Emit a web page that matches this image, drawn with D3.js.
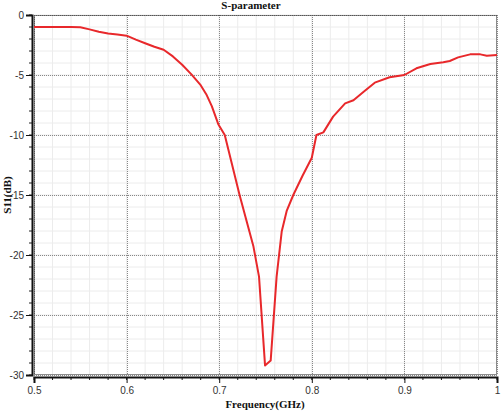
<!DOCTYPE html>
<html>
<head>
<meta charset="utf-8">
<script src="https://cdn.jsdelivr.net/npm/d3@7"></script>
<style>
  body { margin: 0; background: #fff; }
  svg { display: block; }
  .tick text { font-family: "Liberation Sans", Arial, sans-serif; font-size: 10px; fill: #333; }
  .lbl { font-family: "Liberation Serif", "DejaVu Serif", serif; font-weight: bold; font-size: 11px; fill: #111; }
</style>
</head>
<body>
<div id="chart"></div>
<script>
// S11 readings
const freq = [0.50, 0.52, 0.54, 0.55, 0.56, 0.57, 0.58, 0.59, 0.60, 0.61, 0.62, 0.63, 0.64, 0.65,
  0.66, 0.67, 0.68, 0.686, 0.692, 0.699, 0.706, 0.714, 0.722, 0.73, 0.737, 0.743, 0.7495, 0.7556,
  0.762, 0.7675, 0.773, 0.78, 0.79, 0.80, 0.805, 0.8125, 0.823, 0.836, 0.845, 0.856, 0.868, 0.884,
  0.90, 0.913, 0.928, 0.942, 0.949, 0.958, 0.971, 0.982, 0.989, 1.00];
const s11 = [-1.00, -1.00, -1.00, -1.02, -1.20, -1.40, -1.55, -1.62, -1.72, -2.05, -2.35, -2.65, -2.90, -3.45,
  -4.15, -4.95, -5.85, -6.60, -7.60, -9.10, -10.0, -12.5, -15.0, -17.3, -19.3, -21.8, -29.2, -28.8,
  -21.8, -18.05, -16.3, -15.0, -13.4, -11.9, -10.0, -9.78, -8.47, -7.36, -7.10, -6.40, -5.64, -5.19,
  -5.00, -4.44, -4.08, -3.94, -3.83, -3.53, -3.28, -3.28, -3.39, -3.33];

const xTicks = [0.5, 0.6, 0.7, 0.8, 0.9, 1];
const xTickLabels = ["0.5", "0.6", "0.7", "0.8", "0.9", "1"];
const yTicks = [0, -5, -10, -15, -20, -25, -30];
const yTickLabels = ["0", "-5", "-10", "-15", "-20", "-25", "-30"];

const data = freq.map((f, i) => ({ f: f, v: s11[i] }));

const W = 502, H = 411;
const margin = { top: 15, right: 5, bottom: 36, left: 34 };
const w = W - margin.left - margin.right,
    h = H - margin.top - margin.bottom;

const svg = d3.select("#chart").append("svg")
    .attr("width", W)
    .attr("height", H);

const g = svg.append("g")
    .attr("transform", `translate(${margin.left},${margin.top})`);

const x = d3.scaleLinear().domain([0.5, 1]).range([0, w]);
const y = d3.scaleLinear().domain([-30, 0]).range([h, 0]);

const xMinor = d3.range(0, 26).map(i => 0.5 + i * 0.02);
const yMinor = d3.range(0, 31).map(i => -i);

// minor grid
g.append("g").selectAll("line")
    .data(xMinor)
    .enter().append("line")
    .attr("x1", d => x(d)).attr("x2", d => x(d))
    .attr("y1", 0).attr("y2", h)
    .attr("stroke", "#ececec").attr("stroke-width", 1);
g.append("g").selectAll("line")
    .data(yMinor)
    .enter().append("line")
    .attr("x1", 0).attr("x2", w)
    .attr("y1", d => y(d)).attr("y2", d => y(d))
    .attr("stroke", "#ececec").attr("stroke-width", 1);

// major grid, dotted
g.append("g").selectAll("line")
    .data(xTicks)
    .enter().append("line")
    .attr("x1", d => Math.round(x(d)) + 0.5).attr("x2", d => Math.round(x(d)) + 0.5)
    .attr("y1", 0).attr("y2", h)
    .attr("stroke", "#888").attr("stroke-dasharray", "1,1");
g.append("g").selectAll("line")
    .data(yTicks)
    .enter().append("line")
    .attr("x1", 0).attr("x2", w)
    .attr("y1", d => Math.round(y(d)) + 0.5).attr("y2", d => Math.round(y(d)) + 0.5)
    .attr("stroke", "#888").attr("stroke-dasharray", "1,1");

// frame (dotted)
g.append("rect")
    .attr("x", 0.5).attr("y", 0.5)
    .attr("width", w - 1).attr("height", h - 1)
    .attr("fill", "none")
    .attr("stroke", "#222")
    .attr("stroke-dasharray", "1,1");

// curve
const line = d3.line().x(d => x(d.f)).y(d => y(d.v));
g.append("path")
    .datum(data)
    .attr("fill", "none")
    .attr("stroke", "#e8282b")
    .attr("stroke-width", 2)
    .attr("stroke-linejoin", "round")
    .attr("d", line);

// minor ticks
const axisG = svg.append("g");
axisG.selectAll("line.xm")
    .data(xMinor)
    .enter().append("line")
    .attr("x1", d => margin.left + x(d)).attr("x2", d => margin.left + x(d))
    .attr("y1", margin.top + h + 2).attr("y2", margin.top + h + 5)
    .attr("stroke", "#222");
axisG.selectAll("line.ym")
    .data(yMinor)
    .enter().append("line")
    .attr("x1", margin.left - 5).attr("x2", margin.left - 2)
    .attr("y1", d => margin.top + y(d)).attr("y2", d => margin.top + y(d))
    .attr("stroke", "#222");

// x axis
const xAxis = svg.append("g")
    .attr("transform", `translate(${margin.left},${margin.top + h + 2})`)
    .call(d3.axisBottom(x).tickValues(xTicks).tickFormat((d, i) => xTickLabels[i]).tickSize(6).tickPadding(4));
xAxis.select(".domain").attr("stroke", "#111").attr("stroke-width", 2);
xAxis.selectAll(".tick line").attr("stroke", "#111");

// y axis
const yAxis = svg.append("g")
    .attr("transform", `translate(${margin.left - 2},${margin.top})`)
    .call(d3.axisLeft(y).tickValues(yTicks).tickFormat((d, i) => yTickLabels[i]).tickSize(6).tickPadding(2));
yAxis.select(".domain").attr("stroke", "#111").attr("stroke-width", 2);
yAxis.selectAll(".tick line").attr("stroke", "#111");

// labels
svg.append("text")
    .attr("class", "lbl")
    .attr("x", 251).attr("y", 9)
    .attr("text-anchor", "middle")
    .text("S-parameter");

svg.append("text")
    .attr("class", "lbl")
    .attr("x", 265).attr("y", 408)
    .attr("text-anchor", "middle")
    .text("Frequency(GHz)");

svg.append("text")
    .attr("class", "lbl")
    .attr("transform", "translate(11,195) rotate(-90)")
    .attr("text-anchor", "middle")
    .text("S11(dB)");
</script>
</body>
</html>
